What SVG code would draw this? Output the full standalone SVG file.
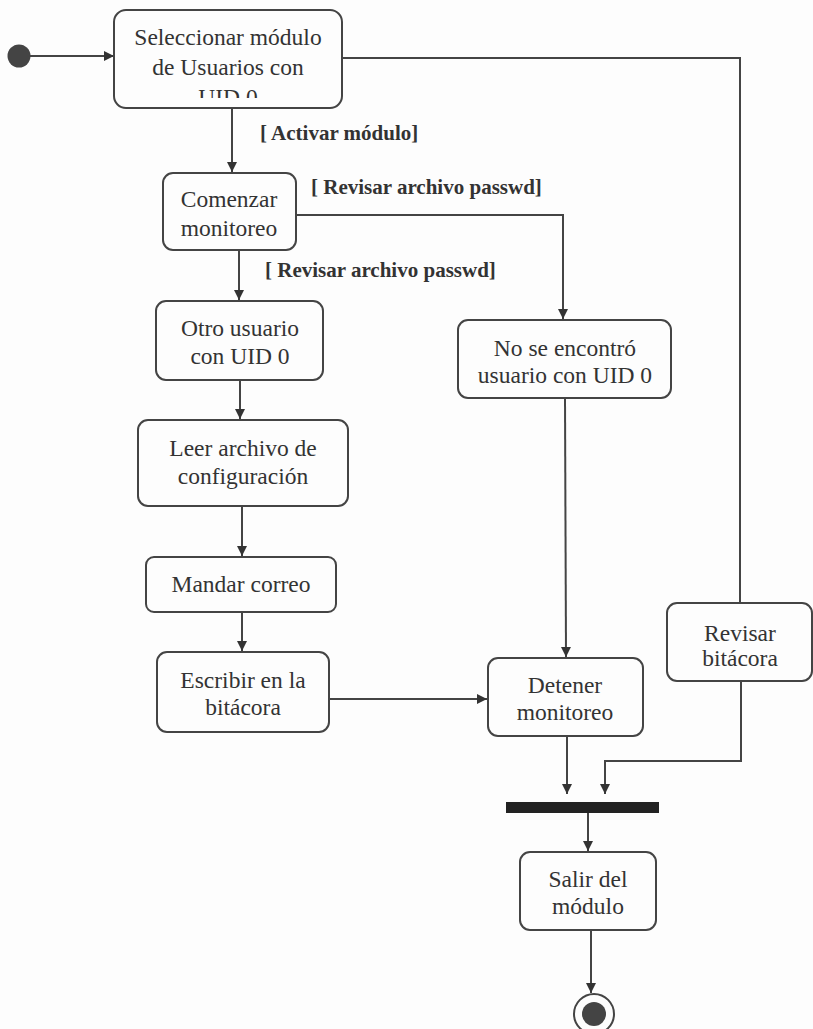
<svg xmlns="http://www.w3.org/2000/svg" width="813" height="1029" viewBox="0 0 813 1029">
  <style>
    .node rect { fill: #fdfdfd; stroke: #444; stroke-width: 2; }
    .node text { font-family: "Liberation Serif", "Times New Roman", serif; font-size: 23.5px; fill: #333; text-anchor: middle; }
    .guard { font-family: "Liberation Serif", "Times New Roman", serif; font-size: 21px; font-weight: bold; fill: #333; }
    .edges path { fill: none; stroke: #444; stroke-width: 2; }
  </style>
  <defs>
    <marker id="arrow" viewBox="0 0 10 10" refX="10" refY="5" markerWidth="10" markerHeight="10" markerUnits="userSpaceOnUse" orient="auto">
      <path d="M0,0 L10,5 L0,10 z" fill="#333"/>
    </marker>
    <clipPath id="clip-select">
      <rect x="114" y="10" width="228" height="88"/>
    </clipPath>
  </defs>
  <rect width="813" height="1029" fill="#fdfdfd"/>

  <!-- connectors -->
  <g class="edges">
    <path d="M30,56 L114,56" marker-end="url(#arrow)"/>
    <path d="M342,58 L740,58 L740,603"/>
    <path d="M232,108 L232,172" marker-end="url(#arrow)"/>
    <path d="M296,215 L563,215 L563,319" marker-end="url(#arrow)"/>
    <path d="M239,250 L239,300" marker-end="url(#arrow)"/>
    <path d="M240,380 L240,419" marker-end="url(#arrow)"/>
    <path d="M242,506 L242,556" marker-end="url(#arrow)"/>
    <path d="M242,612 L242,651" marker-end="url(#arrow)"/>
    <path d="M565,398 L566,657" marker-end="url(#arrow)"/>
    <path d="M329,699 L487,699" marker-end="url(#arrow)"/>
    <path d="M567,736 L567,794" marker-end="url(#arrow)"/>
    <path d="M741,681 L741,761 L605,761 L605,794" marker-end="url(#arrow)"/>
    <path d="M588,813 L588,851" marker-end="url(#arrow)"/>
    <path d="M591,930 L591,993" marker-end="url(#arrow)"/>
  </g>

  <!-- start -->
  <g id="start">
    <circle cx="19" cy="56" r="11.5" fill="#444"/>
  </g>

  <g id="seleccionar" class="node">
    <rect x="114" y="10" width="228" height="98" rx="12"/>
    <g clip-path="url(#clip-select)">
      <text x="228" y="45">Seleccionar módulo</text>
      <text x="228" y="75">de Usuarios con</text>
      <text x="228" y="105">UID 0</text>
    </g>
  </g>

  <g id="comenzar" class="node">
    <rect x="163" y="173" width="133" height="77" rx="10"/>
    <text x="229" y="207">Comenzar</text>
    <text x="229" y="236">monitoreo</text>
  </g>

  <g id="otro" class="node">
    <rect x="156" y="301" width="167" height="79" rx="10"/>
    <text x="240" y="336">Otro usuario</text>
    <text x="240" y="364">con UID 0</text>
  </g>

  <g id="noencontro" class="node">
    <rect x="458" y="320" width="213" height="78" rx="10"/>
    <text x="565" y="356">No se encontró</text>
    <text x="565" y="383">usuario con UID 0</text>
  </g>

  <g id="leer" class="node">
    <rect x="138" y="420" width="210" height="86" rx="10"/>
    <text x="243" y="456">Leer archivo de</text>
    <text x="243" y="484">configuración</text>
  </g>

  <g id="mandar" class="node">
    <rect x="146" y="557" width="190" height="55" rx="8"/>
    <text x="241" y="592">Mandar correo</text>
  </g>

  <g id="escribir" class="node">
    <rect x="157" y="652" width="172" height="80" rx="10"/>
    <text x="243" y="688">Escribir en la</text>
    <text x="243" y="715">bitácora</text>
  </g>

  <g id="detener" class="node">
    <rect x="488" y="658" width="155" height="78" rx="10"/>
    <text x="565" y="693">Detener</text>
    <text x="565" y="720">monitoreo</text>
  </g>

  <g id="revisar" class="node">
    <rect x="667" y="603" width="145" height="78" rx="10"/>
    <text x="740" y="641">Revisar</text>
    <text x="740" y="666">bitácora</text>
  </g>

  <g id="join">
    <rect x="506" y="802" width="153" height="11" fill="#222"/>
  </g>

  <g id="salir" class="node">
    <rect x="520" y="852" width="136" height="78" rx="10"/>
    <text x="588" y="887">Salir del</text>
    <text x="588" y="914">módulo</text>
  </g>

  <g id="end">
    <circle cx="594" cy="1014" r="20" fill="#fdfdfd" stroke="#444" stroke-width="2"/>
    <circle cx="594" cy="1014" r="12" fill="#444"/>
  </g>

  <!-- guard labels -->
  <g id="guards">
    <text class="guard" x="260" y="140">[ Activar módulo]</text>
    <text class="guard" x="311" y="194">[ Revisar archivo passwd]</text>
    <text class="guard" x="265" y="277">[ Revisar archivo passwd]</text>
  </g>
</svg>
